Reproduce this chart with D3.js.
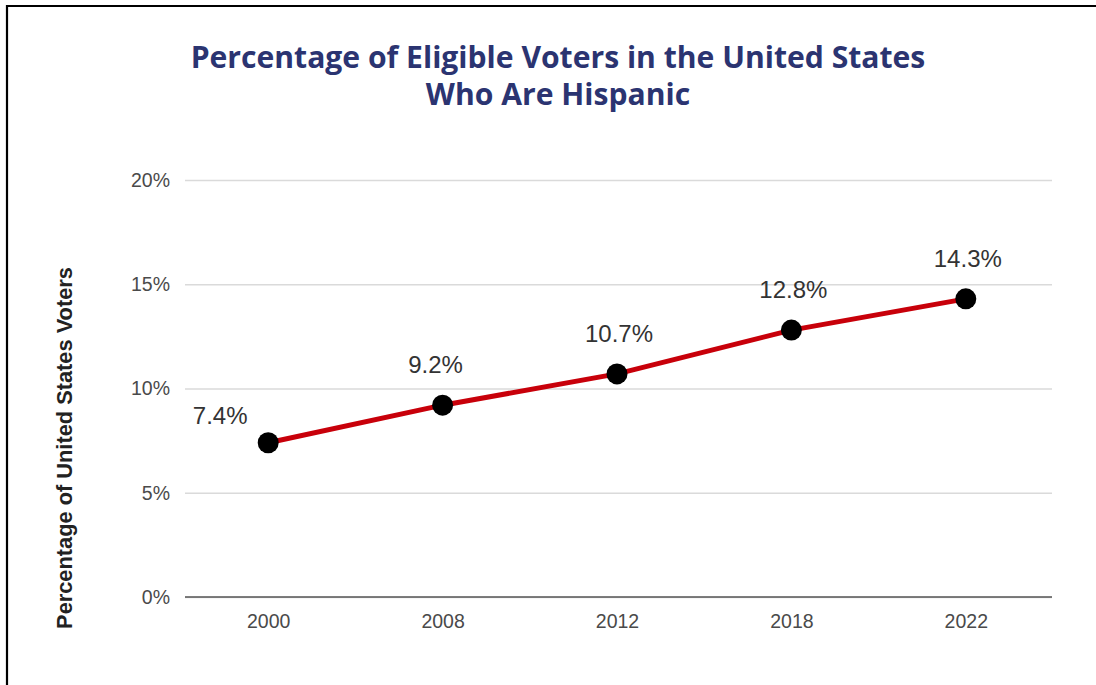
<!DOCTYPE html>
<html>
<head>
<meta charset="utf-8">
<script src="https://cdn.jsdelivr.net/npm/d3@7/dist/d3.min.js"></script>
<style>
  html, body { margin: 0; padding: 0; background: #fff; }
  svg { display: block; }
</style>
</head>
<body>
<svg id="chart" width="1096" height="685"></svg>
<script>
// Share of eligible voters in the US who are Hispanic
const years = ["2000", "2008", "2012", "2018", "2022"];
const shares = [7.4, 9.2, 10.7, 12.8, 14.3];
const yTicks = [0, 5, 10, 15, 20];
const titleLines = ["Percentage of Eligible Voters in the United States", "Who Are Hispanic"];
const yAxisTitle = "Percentage of United States Voters";

const svg = d3.select("#chart");
const W = 1096, H = 685;
const sans = "'Liberation Sans', Arial, sans-serif";

// Frame: top and left rules
svg.append("line").attr("x1", 6).attr("x2", W).attr("y1", 6).attr("y2", 6)
  .attr("stroke", "#000").attr("stroke-width", 2.2);
svg.append("line").attr("x1", 7).attr("x2", 7).attr("y1", 5).attr("y2", H)
  .attr("stroke", "#000").attr("stroke-width", 2.2);

// Title, sized so the first line spans the intended width
const titleG = svg.append("g")
  .attr("font-family", "'Open Sans', Lato, sans-serif")
  .attr("font-weight", 700)
  .attr("fill", "#2b3471")
  .attr("text-anchor", "middle");
const titleText = titleG.selectAll("text").data(titleLines).join("text")
  .attr("x", 558).attr("y", (d, i) => 68 + i * 37)
  .attr("font-size", 28)
  .text(d => d);
const w0 = titleText.node().getComputedTextLength();
titleText.attr("font-size", 28 * 735 / w0);

const x = d3.scalePoint().domain(years).range([181, 1053]).padding(0.5);
const y = d3.scaleLinear().domain([0, 20]).range([597, 180]);

// Horizontal gridlines
const grid = d3.axisLeft(y).tickValues(yTicks).tickSize(-(1052 - 185)).tickFormat("");
svg.append("g").attr("transform", "translate(185,0)").call(grid)
  .call(g => g.select(".domain").remove())
  .call(g => g.selectAll(".tick line").attr("stroke", "#dadada").attr("stroke-width", 1.3));

// Y tick labels
const yAxis = d3.axisLeft(y).tickValues(yTicks).tickSize(0).tickPadding(0).tickFormat(d => d + "%");
svg.append("g").attr("transform", "translate(170,0)").call(yAxis)
  .call(g => g.select(".domain").remove())
  .call(g => g.selectAll(".tick text")
    .attr("font-family", sans)
    .attr("font-size", 19.5).attr("fill", "#4a4a4a"));

// Baseline
svg.append("line").attr("x1", 185).attr("x2", 1052).attr("y1", y(0)).attr("y2", y(0))
  .attr("stroke", "#555").attr("stroke-width", 1.6);

// X axis labels
const xAxis = d3.axisBottom(x).tickSize(0).tickPadding(0);
svg.append("g").attr("transform", `translate(0,${y(0) + 31})`).call(xAxis)
  .call(g => g.select(".domain").remove())
  .call(g => g.selectAll(".tick text")
    .attr("font-family", sans)
    .attr("font-size", 19.5).attr("fill", "#4a4a4a").attr("dy", "0"));

// Y axis title
svg.append("text")
  .attr("transform", "translate(72,448) rotate(-90)")
  .attr("text-anchor", "middle")
  .attr("font-family", sans)
  .attr("font-weight", 700).attr("font-size", 21.8).attr("fill", "#222")
  .text(yAxisTitle);

const pts = years.map((yr, i) => ({ yr, v: shares[i] }));

// Line
svg.append("path").datum(pts)
  .attr("fill", "none").attr("stroke", "#c8000a").attr("stroke-width", 5)
  .attr("stroke-linejoin", "round")
  .attr("d", d3.line().x(d => x(d.yr)).y(d => y(d.v)));

// Points
svg.append("g").selectAll("circle").data(pts).join("circle")
  .attr("cx", d => x(d.yr)).attr("cy", d => y(d.v)).attr("r", 10.5)
  .attr("fill", "#000");

// Value labels (first one sits up-left of its point to clear the line)
svg.append("g").selectAll("text").data(pts).join("text")
  .attr("x", (d, i) => x(d.yr) + (i === 0 ? -48 : (i === 1 ? -7 : 2)))
  .attr("y", (d, i) => y(d.v) + (i === 0 ? -19 : -32))
  .attr("text-anchor", "middle")
  .attr("font-family", sans)
  .attr("font-size", 24).attr("fill", "#333")
  .text(d => d.v.toFixed(1) + "%");
</script>
</body>
</html>
